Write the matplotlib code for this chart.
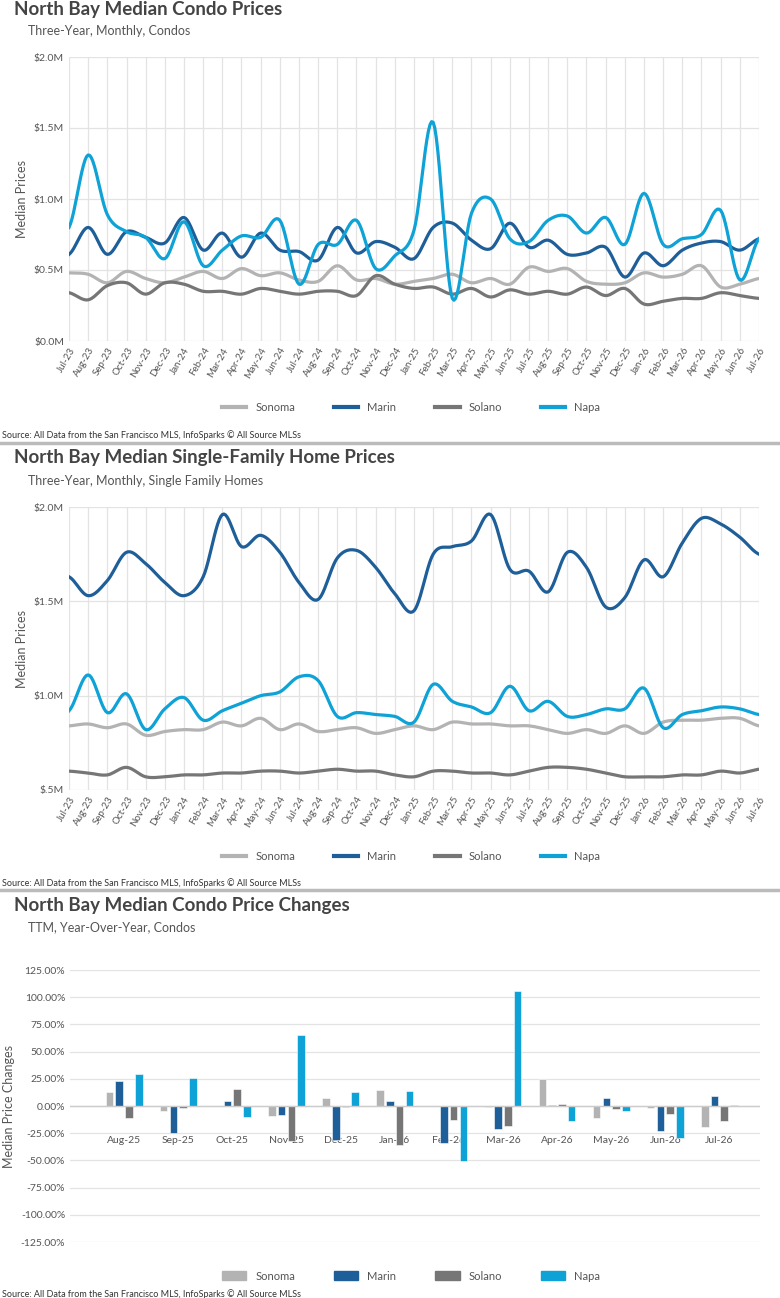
import matplotlib
matplotlib.use("Agg")
import matplotlib.pyplot as plt
import numpy as np
from matplotlib.lines import Line2D
from matplotlib.patches import Patch

plt.rcParams['font.family'] = ['Lato', 'DejaVu Sans']

months = ["Jul-23","Aug-23","Sep-23","Oct-23","Nov-23","Dec-23","Jan-24","Feb-24","Mar-24","Apr-24","May-24","Jun-24",
          "Jul-24","Aug-24","Sep-24","Oct-24","Nov-24","Dec-24","Jan-25","Feb-25","Mar-25","Apr-25","May-25","Jun-25",
          "Jul-25","Aug-25","Sep-25","Oct-25","Nov-25","Dec-25","Jan-26","Feb-26","Mar-26","Apr-26","May-26","Jun-26","Jul-26"]

condo_sonoma = [0.48,0.47,0.41,0.49,0.44,0.41,0.45,0.49,0.44,0.51,0.46,0.48,0.43,0.42,0.53,0.43,0.44,0.40,0.42,0.44,0.47,0.41,
                0.44,0.40,0.52,0.49,0.51,0.42,0.40,0.41,0.48,0.45,0.47,0.53,0.38,0.40,0.44]
condo_marin = [0.61,0.80,0.61,0.77,0.73,0.69,0.87,0.64,0.76,0.59,0.76,0.64,0.63,0.57,0.80,0.62,0.70,0.66,0.58,0.80,0.83,0.71,
               0.65,0.83,0.66,0.71,0.61,0.62,0.66,0.45,0.62,0.53,0.64,0.69,0.70,0.64,0.72]
condo_solano = [0.34,0.29,0.39,0.41,0.33,0.41,0.40,0.35,0.35,0.33,0.37,0.35,0.33,0.35,0.35,0.32,0.46,0.40,0.37,0.38,0.33,0.37,
                0.31,0.36,0.33,0.35,0.33,0.38,0.32,0.37,0.26,0.28,0.30,0.30,0.34,0.32,0.30]
condo_napa = [0.80,1.31,0.89,0.77,0.73,0.58,0.84,0.53,0.64,0.74,0.73,0.85,0.40,0.68,0.68,0.85,0.51,0.60,0.78,1.54,0.30,0.90,
              1.00,0.72,0.70,0.85,0.88,0.76,0.87,0.68,1.04,0.68,0.72,0.75,0.92,0.43,0.72]

sfh_sonoma = [0.84,0.85,0.83,0.85,0.79,0.81,0.82,0.82,0.86,0.84,0.88,0.82,0.85,0.81,0.82,0.83,0.80,0.82,0.84,0.82,0.86,0.85,
              0.85,0.84,0.84,0.82,0.80,0.82,0.80,0.84,0.80,0.86,0.87,0.87,0.88,0.88,0.84]
sfh_marin = [1.63,1.53,1.61,1.76,1.70,1.60,1.53,1.63,1.96,1.79,1.85,1.76,1.60,1.51,1.73,1.77,1.68,1.54,1.45,1.75,1.79,1.82,
             1.96,1.67,1.66,1.55,1.76,1.68,1.47,1.52,1.72,1.63,1.81,1.94,1.91,1.84,1.75]
sfh_solano = [0.60,0.59,0.58,0.62,0.57,0.57,0.58,0.58,0.59,0.59,0.60,0.60,0.59,0.60,0.61,0.60,0.60,0.58,0.57,0.60,0.60,0.59,
              0.59,0.58,0.60,0.62,0.62,0.61,0.59,0.57,0.57,0.57,0.58,0.58,0.60,0.59,0.61]
sfh_napa = [0.92,1.11,0.91,1.01,0.82,0.93,0.99,0.87,0.92,0.96,1.00,1.02,1.10,1.08,0.89,0.91,0.90,0.89,0.86,1.06,0.97,0.94,
            0.91,1.05,0.92,0.97,0.89,0.90,0.93,0.93,1.04,0.83,0.90,0.92,0.94,0.93,0.90]

bar_cats = ["Aug-25","Sep-25","Oct-25","Nov-25","Dec-25","Jan-26","Feb-26","Mar-26","Apr-26","May-26","Jun-26","Jul-26"]
chg_sonoma = [13,-5,0,-9,7,15,0,-1,25,-11,-2,-19]
chg_marin = [23,-25,5,-8,-31,5,-34,-21,1,7,-23,9]
chg_solano = [-11,-2,16,-32,-1,-36,-13,-18,2,-3,-7,-14]
chg_napa = [29,26,-10,65,13,14,-51,106,-14,-5,-29,1]

names = ["Sonoma","Marin","Solano","Napa"]
colors = ["#b3b3b3","#1f5f99","#767676","#0ea2d6"]

W, H = 780, 1298
fig = plt.figure(figsize=(W/100, H/100), dpi=100)

def ax_rect(l, t, r, b):
    return fig.add_axes([l/W, 1-b/H, (r-l)/W, (b-t)/H])

def smooth(y, n=12):
    y = np.asarray(y, float)
    x = np.arange(len(y))
    p = np.concatenate([[y[0]], y, [y[-1]]])
    xs, ys = [], []
    for i in range(len(y)-1):
        p0, p1, p2, p3 = p[i], p[i+1], p[i+2], p[i+3]
        t = np.linspace(0, 1, n, endpoint=False)
        v = 0.5*((2*p1)+(-p0+p2)*t+(2*p0-5*p1+4*p2-p3)*t**2+(-p0+3*p1-3*p2+p3)*t**3)
        xs.append(x[i]+t); ys.append(v)
    xs.append([x[-1]]); ys.append([y[-1]])
    return np.concatenate(xs), np.concatenate(ys)

def style(ax):
    for s in ax.spines.values():
        s.set_visible(False)
    ax.tick_params(length=0, labelsize=7.5, colors="#555555")

def line_panel(ax, series, ylo, yhi, yticks, ylabels):
    style(ax)
    for ser, c in zip(series, colors):
        xs, ys = smooth(ser)
        ax.plot(xs, ys, color=c, lw=2.3)
    ax.set_xlim(0, 36); ax.set_ylim(ylo, yhi)
    ax.set_yticks(yticks); ax.set_yticklabels(ylabels)
    ax.set_xticks(np.arange(37))
    ax.set_xticklabels(months, rotation=60, ha='right', rotation_mode='anchor', fontsize=7)
    ax.grid(True, color="#e3e3e3", lw=0.9); ax.set_axisbelow(True)
    ax.set_ylabel("Median Prices", fontsize=9, color="#555555")

# Panel 1
fig.text(14/W, 1-9/H, "North Bay Median Condo Prices", fontsize=13.5, fontweight='bold', color="#444444", va='center')
fig.text(28/W, 1-31/H, "Three-Year, Monthly, Condos", fontsize=9, color="#555555", va='center')
ax1 = ax_rect(69, 57, 759, 341)
line_panel(ax1, [condo_sonoma, condo_marin, condo_solano, condo_napa], 0, 2.0,
           [0, 0.5, 1.0, 1.5, 2.0], ["$0.0M", "$0.5M", "$1.0M", "$1.5M", "$2.0M"])

# Panel 2
fig.text(14/W, 1-458/H, "North Bay Median Single-Family Home Prices", fontsize=13.5, fontweight='bold', color="#444444", va='center')
fig.text(28/W, 1-481/H, "Three-Year, Monthly, Single Family Homes", fontsize=9, color="#555555", va='center')
ax2 = ax_rect(69, 507, 759, 790)
line_panel(ax2, [sfh_sonoma, sfh_marin, sfh_solano, sfh_napa], 0.5, 2.0,
           [0.5, 1.0, 1.5, 2.0], ["$.5M", "$1.0M", "$1.5M", "$2.0M"])

# Panel 3
fig.text(14/W, 1-905/H, "North Bay Median Condo Price Changes", fontsize=13.5, fontweight='bold', color="#444444", va='center')
fig.text(28/W, 1-927/H, "TTM, Year-Over-Year, Condos", fontsize=9, color="#555555", va='center')
ax3 = ax_rect(70, 970, 760, 1242)
style(ax3)
xb = np.arange(len(bar_cats))
offs = [-0.27, -0.09, 0.09, 0.27]
for ser, c, o in zip([chg_sonoma, chg_marin, chg_solano, chg_napa], colors, offs):
    ax3.bar(xb + o, ser, width=0.14, color=c, edgecolor='white', linewidth=0.4)
ax3.set_xlim(-1.0, 11.75); ax3.set_ylim(-125, 125)
yt = np.arange(-125, 126, 25)
ax3.set_yticks(yt)
ax3.set_yticklabels([f"{v:.2f}%" for v in yt])
ax3.set_xticks(xb); ax3.set_xticklabels(bar_cats, fontsize=7.5)
ax3.tick_params(axis='x', pad=-76)
ax3.yaxis.grid(True, color="#e3e3e3", lw=0.9); ax3.set_axisbelow(True)
ax3.axhline(0, color="#cccccc", lw=1)
ax3.set_ylabel("Median Price Changes", fontsize=9, color="#555555")

# Legends
for ly in [407, 856]:
    handles = [Line2D([0], [0], color=c, lw=3) for c in colors]
    fig.legend(handles, names, loc='center', bbox_to_anchor=(0.527, 1-ly/H), ncol=4, frameon=False,
               fontsize=8, handlelength=2.2, columnspacing=3.5, labelcolor="#555555")
handles = [Patch(color=c) for c in colors]
fig.legend(handles, names, loc='center', bbox_to_anchor=(0.527, 1-1276/H), ncol=4, frameon=False,
           fontsize=8, handlelength=2.2, handleheight=0.8, columnspacing=3.5, labelcolor="#555555")

src = "Source: All Data from the San Francisco MLS, InfoSparks \u00a9 All Source MLSs"
for sy in [435, 883, 1294]:
    fig.text(2/W, 1-sy/H, src, fontsize=6.5, color="#333333", va='center')
for ly in [443, 890]:
    fig.add_artist(Line2D([0, 1], [1-ly/H]*2, color="#bbbbbb", lw=2.5))

fig.savefig("out.png", dpi=100)
